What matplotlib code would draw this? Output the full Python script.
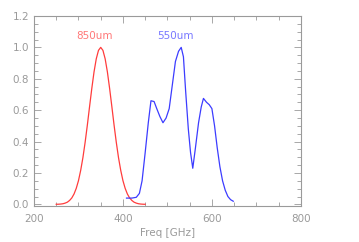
import matplotlib
matplotlib.use('Agg')
import matplotlib.pyplot as plt
from matplotlib.ticker import MultipleLocator, FormatStrFormatter

# 850um band (red)
freq_850 = [250, 255, 260, 265, 270, 275, 280, 285, 290, 295, 300, 305, 310, 315, 320,
            325, 330, 335, 340, 345, 350, 355, 360, 365, 370, 375, 380, 385, 390,
            395, 400, 405, 410, 415, 420, 425, 430, 435, 440, 445, 450]
trans_850 = [0.0005, 0.001, 0.002, 0.004, 0.008, 0.014, 0.025, 0.041, 0.066, 0.102, 0.151,
             0.217, 0.298, 0.396, 0.506, 0.624, 0.739, 0.844, 0.927, 0.981, 1.0,
             0.981, 0.927, 0.844, 0.739, 0.624, 0.506, 0.396, 0.298, 0.217, 0.151,
             0.102, 0.066, 0.041, 0.025, 0.014, 0.008, 0.004, 0.002, 0.001, 0.0005]

# 550um band (blue)
freq_550 = [408, 420, 430, 437, 443, 450, 457, 463, 470, 476, 483, 490, 497, 504,
            511, 518, 525, 531, 536, 541, 547, 552, 557, 563, 570, 576, 581, 588,
            594, 600, 606, 612, 618, 624, 630, 636, 642, 648]
trans_550 = [0.04, 0.04, 0.045, 0.07, 0.15, 0.33, 0.52, 0.66, 0.655, 0.61, 0.56, 0.52, 0.55, 0.61,
             0.76, 0.91, 0.975, 1.0, 0.94, 0.72, 0.48, 0.33, 0.23, 0.36, 0.52, 0.62, 0.675, 0.65,
             0.635, 0.61, 0.5, 0.36, 0.24, 0.15, 0.09, 0.05, 0.03, 0.02]

labels = ['850um', '550um']

grey = '#9a9a9a'

fig = plt.figure(figsize=(3.59, 2.42), dpi=100)
ax = fig.add_axes([0.0947, 0.149, 0.7433, 0.785])

ax.plot(freq_850, trans_850, color='#ff3c3c', lw=0.9)
ax.plot(freq_550, trans_550, color='#3c3cff', lw=0.9)

ax.text(337, 1.07, labels[0], color='#ff7878', fontsize=7.5, ha='center', va='center')
ax.text(519, 1.07, labels[1], color='#7878ff', fontsize=7.5, ha='center', va='center')

ax.set_xlim(200, 800)
ax.set_ylim(-0.01, 1.2)
ax.xaxis.set_major_locator(MultipleLocator(200))
ax.xaxis.set_minor_locator(MultipleLocator(50))
ax.yaxis.set_major_locator(MultipleLocator(0.2))
ax.yaxis.set_minor_locator(MultipleLocator(0.05))
ax.yaxis.set_major_formatter(FormatStrFormatter('%.1f'))

ax.tick_params(which='both', direction='in', top=True, right=True, colors=grey,
               labelsize=7.5, labelcolor=grey, width=0.6)
ax.tick_params(which='major', length=5)
ax.tick_params(which='minor', length=3)
ax.tick_params(axis='x', which='major', pad=6)
for sp in ax.spines.values():
    sp.set_color(grey)
    sp.set_linewidth(0.8)

ax.set_xlabel('Freq [GHz]', color=grey, fontsize=7.5, labelpad=3)

fig.savefig('out.png', dpi=100)
